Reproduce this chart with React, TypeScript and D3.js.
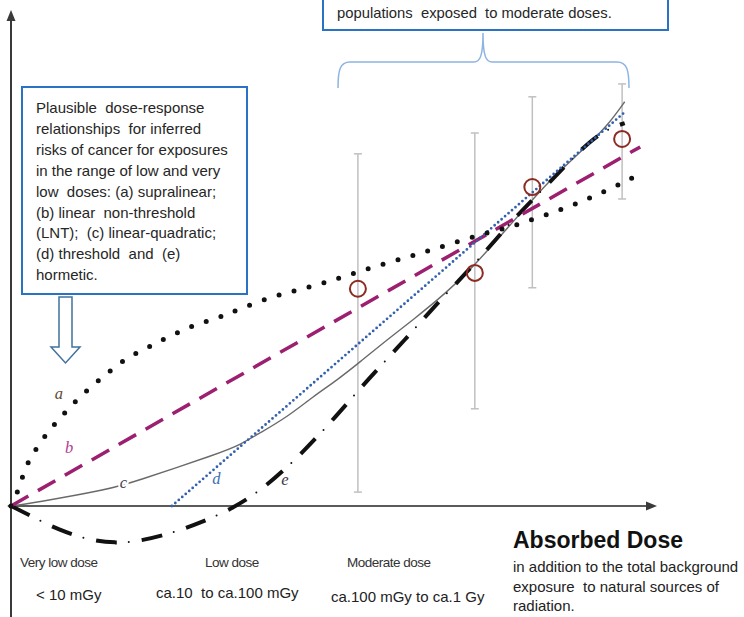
import React, { useEffect, useRef } from 'react';
import * as d3 from 'd3';

const W = 744;
const H = 617;

// Curve (a) supralinear
const supraX = [0, 1.1, 1.9, 2.8, 4.2, 5.7, 7.3, 9.0, 10.7, 12.7, 14.6, 16.6, 18.7, 21.1, 23.1, 25.4, 27.7, 30.0, 32.4, 35.0, 39.6, 44.3, 49.1, 53.7, 58.7, 63.6, 68.4, 73.4, 78.0, 82.8, 87.5, 92.1, 96.7];
const supraY = [0, 3.0, 6.5, 9.3, 12.1, 14.9, 17.3, 19.8, 22.0, 24.4, 26.4, 28.6, 30.4, 31.9, 33.3, 34.7, 36.1, 37.1, 38.1, 39.5, 41.9, 43.5, 45.2, 47.2, 49.2, 51.0, 53.0, 55.0, 56.5, 58.7, 60.9, 63.5, 66.5];
// Curve (b) linear non-threshold
const lntX = [0, 97.4];
const lntY = [0, 72.4];
// Curve (c) linear-quadratic
const lqX = [0, 3.4, 15.3, 18.9, 32.4, 35.4, 38.5, 42.7, 46.7, 50.5, 54.0, 58.2, 62.2, 67.5, 71.5, 75.2, 79.6, 83.4, 88.5, 92.3, 95.0];
const lqY = [0, 0.6, 3.4, 4.8, 10.7, 12.3, 14.7, 17.9, 22.0, 25.4, 29.0, 33.5, 37.5, 43.1, 48.2, 53.6, 60.1, 65.7, 71.8, 76.6, 81.5];
// Curve (d) threshold
const thrX = [24.9, 95.0];
const thrY = [0, 79.4];
// Curve (e) hormetic
const horX = [0, 3.4, 7.3, 12.2, 16.1, 20.0, 25.1, 29.3, 34.2, 39.0, 44.7, 50.2, 55.3, 61.0, 66.4, 72.1, 77.2, 82.7, 88.4, 91.9, 95.0];
const horY = [0, -2.2, -4.8, -6.9, -7.5, -7.1, -5.4, -3.4, -0.6, 3.4, 10.1, 17.9, 25.6, 33.5, 41.5, 49.2, 57.1, 64.3, 72.2, 75.8, 77.2];

// Observed points with error bars
const obsX = [53.7, 71.8, 80.7, 94.6];
const obsY = [43.8, 47.0, 64.3, 74.0];
const obsHigh = [71.0, 75.2, 82.5, 85.1];
const obsLow = [2.8, 19.6, 44.0, 61.9];

const curveLetters = ['a', 'b', 'c', 'd', 'e'];
const rangeNames = ['Very low dose', 'Low dose', 'Moderate dose'];
const rangeDoses = ['< 10 mGy', 'ca.10  to ca.100 mGy', 'ca.100 mGy to ca.1 Gy'];
const boxLines = [
  'Plausible  dose-response',
  'relationships  for inferred',
  'risks of cancer for exposures',
  'in the range of low and very',
  'low  doses: (a) supralinear;',
  '(b) linear  non-threshold',
  '(LNT);  (c) linear-quadratic;',
  '(d) threshold  and  (e)',
  'hormetic.',
];
const topBoxText = 'populations  exposed  to moderate doses.';
const axisTitle = 'Absorbed Dose';
const axisSub = [
  'in addition to the total background',
  'exposure  to natural sources of',
  'radiation.',
];

const SANS = '"Liberation Sans", Arial, sans-serif';
const SERIF = '"Liberation Serif", "Times New Roman", serif';

export default function App() {
  const ref = useRef<SVGSVGElement>(null);

  useEffect(() => {
    const svg = d3.select(ref.current);
    svg.selectAll('*').remove();

    const x = d3.scaleLinear().domain([0, 100]).range([11, 657]);
    const y = d3.scaleLinear().domain([0, 100]).range([506, 10]);

    const pts = (xs: number[], ys: number[]) => xs.map((v, i) => [v, ys[i]] as [number, number]);
    const lineBasis = d3.line<[number, number]>().x(d => x(d[0])).y(d => y(d[1])).curve(d3.curveBasis);
    const lineLin = d3.line<[number, number]>().x(d => x(d[0])).y(d => y(d[1]));

    svg.append('rect').attr('width', W).attr('height', H).attr('fill', '#fff');

    // Axes
    const x0 = x(0);
    const y0 = y(0);
    svg.append('line')
      .attr('x1', x0).attr('x2', x0)
      .attr('y1', H).attr('y2', y(100) + 9)
      .attr('stroke', '#3a3a3a').attr('stroke-width', 2);
    svg.append('path')
      .attr('d', `M${x0},${y(100)} L${x0 - 4.5},${y(100) + 11} L${x0 + 4.5},${y(100) + 11} Z`)
      .attr('fill', '#3a3a3a');
    svg.append('line')
      .attr('x1', x(-0.5)).attr('x2', x(100) - 9)
      .attr('y1', y0).attr('y2', y0)
      .attr('stroke', '#5a5a5a').attr('stroke-width', 2);
    svg.append('path')
      .attr('d', `M${x(100)},${y0} L${x(100) - 11},${y0 - 4.5} L${x(100) - 11},${y0 + 4.5} Z`)
      .attr('fill', '#3a3a3a');

    // Error bars
    const eb = svg.append('g').attr('stroke', '#c0c0c0').attr('stroke-width', 1.5);
    obsX.forEach((v, i) => {
      eb.append('line').attr('x1', x(v)).attr('x2', x(v)).attr('y1', y(obsHigh[i])).attr('y2', y(obsLow[i]));
      eb.append('line').attr('x1', x(v) - 4).attr('x2', x(v) + 4).attr('y1', y(obsHigh[i])).attr('y2', y(obsHigh[i]));
      eb.append('line').attr('x1', x(v) - 4).attr('x2', x(v) + 4).attr('y1', y(obsLow[i])).attr('y2', y(obsLow[i]));
    });

    // (c) linear-quadratic
    svg.append('path').attr('d', lineBasis(pts(lqX, lqY)))
      .attr('fill', 'none').attr('stroke', '#6a6a6a').attr('stroke-width', 1.4);

    // (e) hormetic
    const eP = lineBasis(pts(horX, horY));
    svg.append('path').attr('d', eP)
      .attr('fill', 'none').attr('stroke', '#111').attr('stroke-width', 4)
      .attr('stroke-dasharray', '21 25');
    svg.append('path').attr('d', eP)
      .attr('fill', 'none').attr('stroke', '#111').attr('stroke-width', 2)
      .attr('stroke-linecap', 'round')
      .attr('stroke-dasharray', '0 46').attr('stroke-dashoffset', 13);

    // (b) LNT
    svg.append('path').attr('d', lineLin(pts(lntX, lntY)))
      .attr('fill', 'none').attr('stroke', '#9c1f70').attr('stroke-width', 3.5)
      .attr('stroke-dasharray', '20 11');

    // (d) threshold
    svg.append('path').attr('d', lineLin(pts(thrX, thrY)))
      .attr('fill', 'none').attr('stroke', '#3461ad').attr('stroke-width', 2.8)
      .attr('stroke-linecap', 'round').attr('stroke-dasharray', '0 4.6');

    // (a) supralinear
    svg.append('path').attr('d', lineBasis(pts(supraX, supraY)))
      .attr('fill', 'none').attr('stroke', '#111').attr('stroke-width', 5)
      .attr('stroke-linecap', 'round').attr('stroke-dasharray', '0 15.5');

    // Observed circles
    svg.append('g').selectAll('circle').data(obsX).join('circle')
      .attr('cx', d => x(d)).attr('cy', (d, i) => y(obsY[i])).attr('r', 8)
      .attr('fill', 'none').attr('stroke', '#8b2b22').attr('stroke-width', 2);

    // Curve letters
    const letterPos: [number, number][] = [[7.4, 21.6], [9.0, 10.6], [17.4, 3.6], [31.8, 4.4], [42.4, 4.2]];
    const letterCol = ['#5e4a36', '#b0408f', '#4a4050', '#3c6eb4', '#3a3a4a'];
    curveLetters.forEach((l, i) => {
      svg.append('text')
        .attr('x', x(letterPos[i][0])).attr('y', y(letterPos[i][1]))
        .attr('text-anchor', 'middle')
        .attr('font-family', SERIF).attr('font-style', 'italic').attr('font-size', 16.5)
        .attr('fill', letterCol[i])
        .attr('stroke', '#fff').attr('stroke-width', 4).attr('paint-order', 'stroke')
        .text(l);
    });

    // Top annotation box
    svg.append('rect').attr('x', 323).attr('y', -20).attr('width', 345).attr('height', 50)
      .attr('fill', '#fff').attr('stroke', '#2a72c4').attr('stroke-width', 2);
    svg.append('text').attr('x', 337).attr('y', 18)
      .attr('font-family', SANS).attr('font-size', 14.8).attr('fill', '#262626')
      .style('white-space', 'pre').text(topBoxText);

    // Brace
    svg.append('path')
      .attr('d', 'M338,88 C338,70 340,62 350,62 L474,62 C480,62 483,56 483,33 C483,56 486,62 492,62 L617,62 C627,62 629,70 629,88')
      .attr('fill', 'none').attr('stroke', '#8db4e2').attr('stroke-width', 1.5);

    // Left box
    svg.append('rect').attr('x', 22).attr('y', 87).attr('width', 225).attr('height', 207)
      .attr('fill', '#fff').attr('stroke', '#2a72c4').attr('stroke-width', 2);
    const bt = svg.append('g').attr('font-family', SANS).attr('font-size', 15).attr('fill', '#262626');
    boxLines.forEach((t, i) => {
      bt.append('text').attr('x', 36).attr('y', 113 + i * 20.9).style('white-space', 'pre').text(t);
    });

    // Hollow arrow
    svg.append('path')
      .attr('d', 'M59,297 L72,297 L72,347 L80,347 L65.5,363 L51,347 L59,347 Z')
      .attr('fill', '#fff').attr('stroke', '#41719c').attr('stroke-width', 1.5);

    // Range labels
    const nameX = [20, 205, 347];
    rangeNames.forEach((t, i) => {
      svg.append('text').attr('x', nameX[i]).attr('y', 567)
        .attr('font-family', SANS).attr('font-size', 13.5).attr('letter-spacing', -0.5)
        .attr('fill', '#333').text(t);
    });
    const doseX = [36, 156, 331];
    const doseY = [600, 598, 602];
    rangeDoses.forEach((t, i) => {
      svg.append('text').attr('x', doseX[i]).attr('y', doseY[i])
        .attr('font-family', SANS).attr('font-size', 15)
        .attr('fill', '#222').style('white-space', 'pre').text(t);
    });

    // Axis title
    svg.append('text').attr('x', 513).attr('y', 548)
      .attr('font-family', SANS).attr('font-size', 23).attr('font-weight', 'bold')
      .attr('fill', '#111').text(axisTitle);
    axisSub.forEach((t, i) => {
      svg.append('text').attr('x', 513).attr('y', 572 + i * 19.5)
        .attr('font-family', SANS).attr('font-size', 15)
        .attr('fill', '#222').style('white-space', 'pre').text(t);
    });
  }, []);

  return (
    <svg
      ref={ref}
      width={W}
      height={H}
      style={{ position: 'absolute', left: 0, top: 0, display: 'block' }}
    />
  );
}
